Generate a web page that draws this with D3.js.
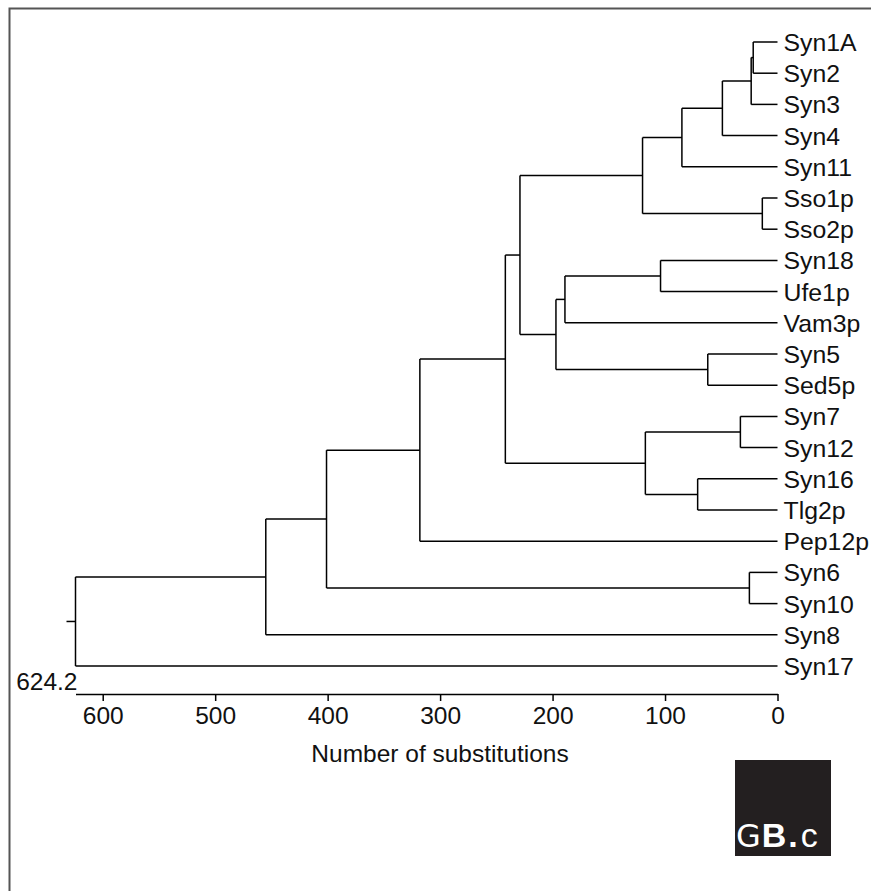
<!DOCTYPE html>
<html>
<head>
<meta charset="utf-8">
<script src="https://cdn.jsdelivr.net/npm/d3@7"></script>
<style>
  html, body { margin: 0; padding: 0; background: #fff; }
  svg { display: block; }
  text { font-family: "Liberation Sans", Arial, sans-serif; }
</style>
</head>
<body>
<svg id="chart" width="871" height="891"></svg>
<script>
// ---- data ----
const leafNames = ["Syn1A","Syn2","Syn3","Syn4","Syn11","Sso1p","Sso2p","Syn18","Ufe1p","Vam3p",
  "Syn5","Sed5p","Syn7","Syn12","Syn16","Tlg2p","Pep12p","Syn6","Syn10","Syn8","Syn17"];
// agglomeration steps: node id, left child, right child, height (substitutions)
const nodeIds    = ["n1","n2","n3","n4","n5","n6","n7","n8","n9","n10","n11","n12","n13","n14","n15","n16","n17","n18","n19","n20"];
const nodeLeft   = ["Syn1A","n1","n2","n3","Sso1p","n4","Syn18","n7","Syn5","n8","n6","Syn7","Syn16","n12","n11","n15","Syn6","n16","n18","n19"];
const nodeRight  = ["Syn2","Syn3","Syn4","Syn11","Sso2p","n5","Ufe1p","Vam3p","Sed5p","n9","n10","Syn12","Tlg2p","n13","n14","Pep12p","Syn10","n17","Syn8","Syn17"];
const nodeHeight = [21.6, 23.4, 49, 85, 13.5, 120, 104, 189, 62, 197, 229, 33, 71, 117.5, 242, 318, 25, 401, 455, 624.2];
const axisTicks  = [600, 500, 400, 300, 200, 100, 0];
const rootLabel  = "624.2";
const axisTitle  = "Number of substitutions";

// ---- build tree ----
const byId = {};
leafNames.forEach(n => byId[n] = { name: n, h: 0 });
nodeIds.forEach((id, i) => {
  byId[id] = { name: id, h: nodeHeight[i], children: [byId[nodeLeft[i]], byId[nodeRight[i]]] };
});
const root = d3.hierarchy(byId[nodeIds[nodeIds.length - 1]]);

const svg = d3.select("#chart");
const x = d3.scaleLinear().domain([624.2, 0]).range([75.5, 777.5]);
const y = d3.scalePoint().domain(leafNames).range([42, 666]);

// positions
root.eachAfter(d => {
  d.px = x(d.data.h);
  if (!d.children) d.py = y(d.data.name);
  else d.py = (d.children[0].py + d.children[d.children.length - 1].py) / 2;
});

// frame
svg.append("path")
  .attr("d", "M9.5,891 L9.5,8.5 L871,8.5")
  .attr("fill", "none").attr("stroke", "#555").attr("stroke-width", 2);

const g = svg.append("g").attr("fill", "none").attr("stroke", "#000").attr("stroke-width", 1.5);

// vertical connectors
root.descendants().filter(d => d.children).forEach(d => {
  g.append("line")
    .attr("x1", d.px).attr("x2", d.px)
    .attr("y1", d.children[0].py).attr("y2", d.children[d.children.length - 1].py);
});
// horizontal branches
root.descendants().filter(d => d.parent).forEach(d => {
  g.append("line")
    .attr("x1", d.parent.px).attr("x2", d.px)
    .attr("y1", d.py).attr("y2", d.py);
});
// root stub
g.append("line")
  .attr("x1", root.px - 9).attr("x2", root.px)
  .attr("y1", root.py).attr("y2", root.py);

// leaf labels
svg.append("g").selectAll("text")
  .data(root.leaves())
  .join("text")
  .attr("x", d => d.px + 6)
  .attr("y", d => d.py)
  .attr("dy", "0.36em")
  .attr("font-size", 24.8)
  .attr("fill", "#111")
  .text(d => d.data.name);

// axis
const axis = svg.append("g")
  .attr("transform", "translate(0,694)")
  .call(d3.axisBottom(x).tickValues(axisTicks).tickSize(7).tickSizeOuter(0).tickPadding(6));
axis.select(".domain").attr("stroke", "#000").attr("stroke-width", 1.5);
axis.selectAll(".tick line").attr("stroke", "#000").attr("stroke-width", 1.5);
axis.selectAll(".tick text")
  .attr("font-family", "'Liberation Sans', Arial, sans-serif")
  .attr("font-size", 24.5).attr("fill", "#111");

svg.append("text")
  .attr("x", x(624.2) + 2).attr("y", 690)
  .attr("text-anchor", "end")
  .attr("font-size", 24.5).attr("fill", "#111")
  .text(rootLabel);

svg.append("text")
  .attr("x", 440).attr("y", 762)
  .attr("text-anchor", "middle")
  .attr("font-size", 24.5).attr("fill", "#111")
  .text(axisTitle);

// logo
const logo = svg.append("g");
logo.append("rect").attr("x", 735).attr("y", 760).attr("width", 96).attr("height", 96).attr("fill", "#231f20");
const lt = logo.append("text").attr("x", 736).attr("y", 847).attr("fill", "#fff").attr("font-size", 34);
lt.append("tspan").attr("font-weight", "normal").attr("font-family", "'DejaVu Sans', sans-serif").attr("font-size", 32).text("G");
lt.append("tspan").attr("font-weight", "bold").attr("dx", 1).text("B");
lt.append("tspan").attr("font-weight", "bold").attr("dx", 2).text(".");
lt.append("tspan").attr("font-weight", "normal").attr("dx", 3).text("c");
</script>
</body>
</html>
